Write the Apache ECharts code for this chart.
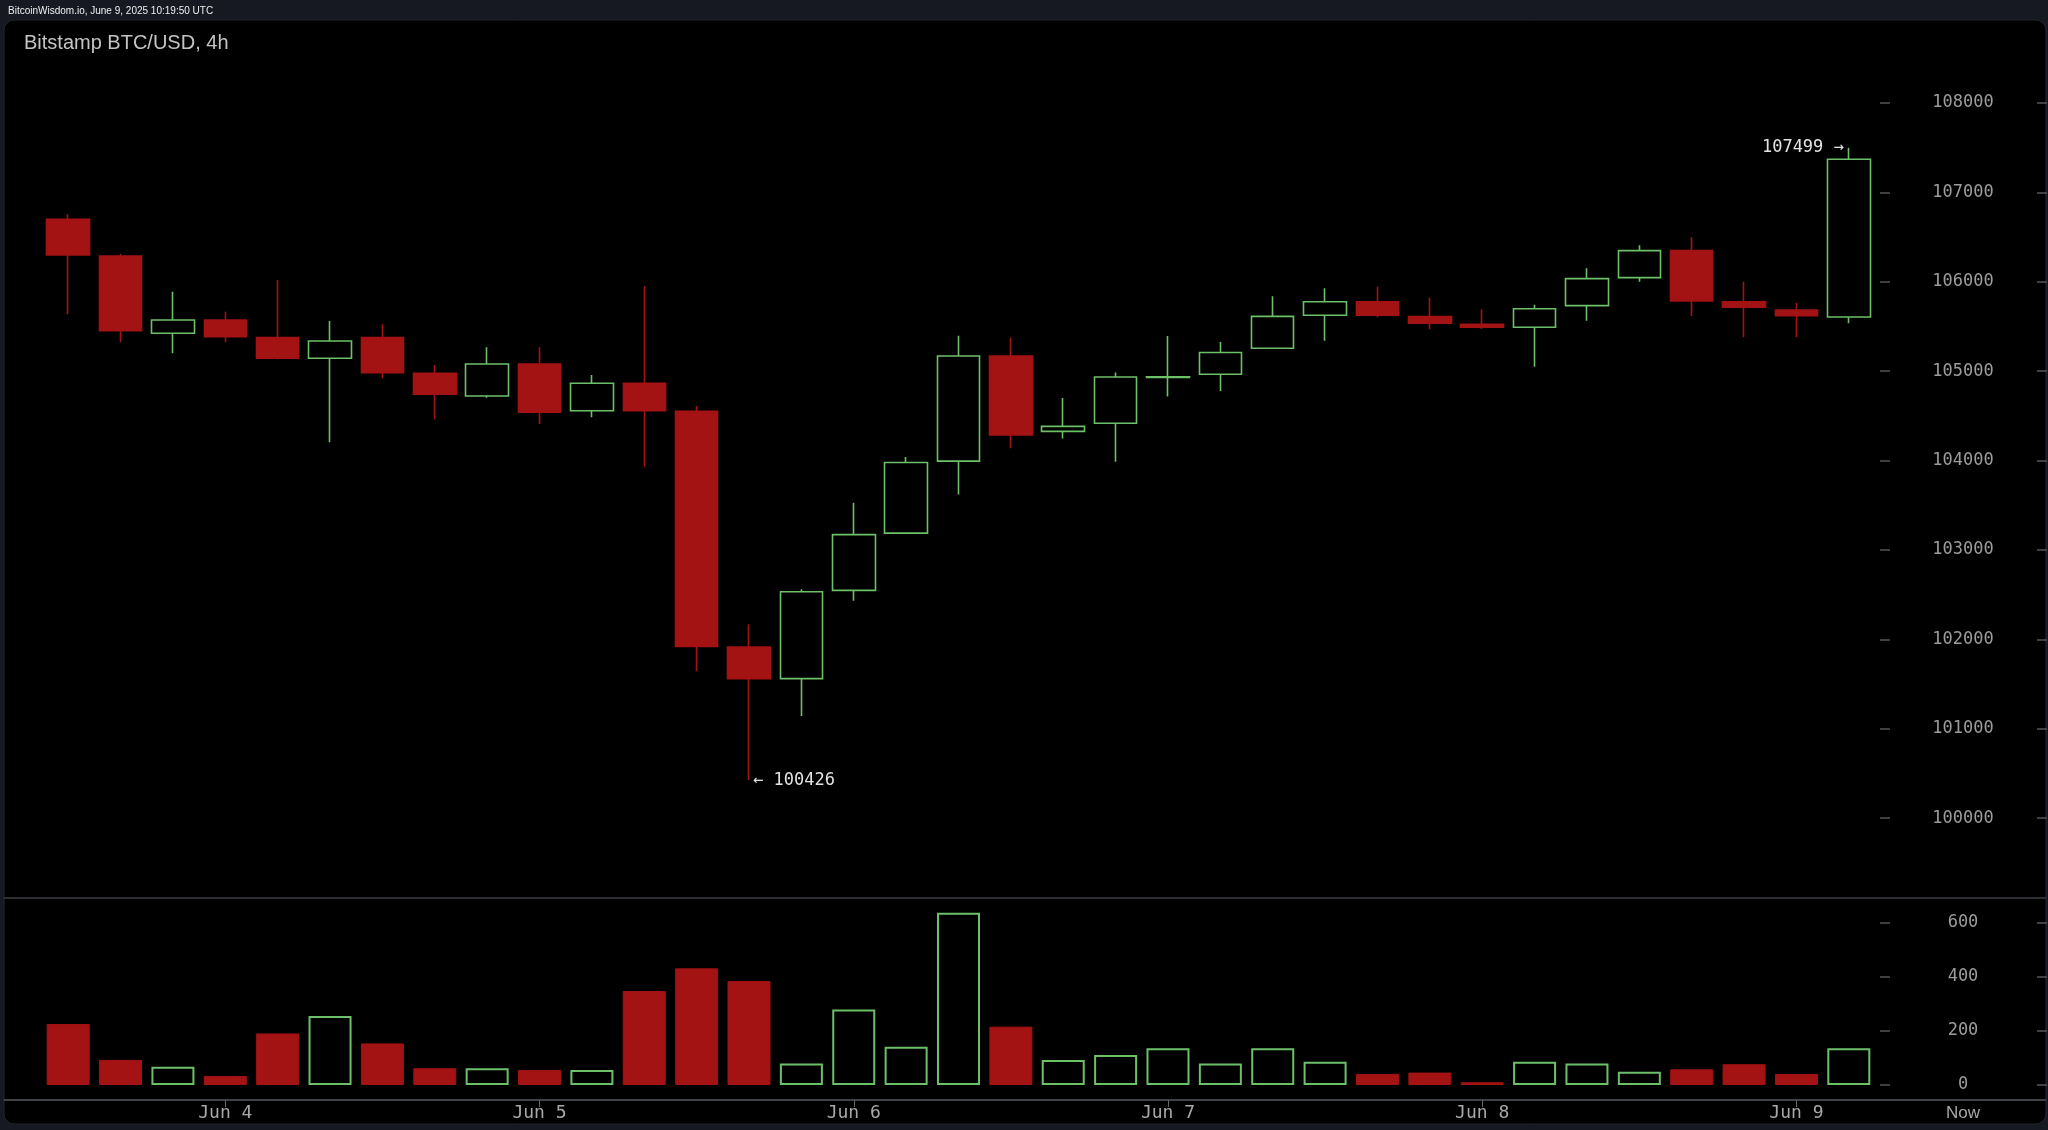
<!DOCTYPE html>
<html>
<head>
<meta charset="utf-8">
<style>
  html, body { margin: 0; padding: 0; background: #161922; }
  #chart { width: 2048px; height: 1130px; }
</style>
<script src="https://cdn.jsdelivr.net/npm/echarts@6/dist/echarts.min.js"></script>
</head>
<body>
<div id="chart"></div>
<script>
// ---- data ----
const categories = [
  '06-03 12:00','06-03 16:00','06-03 20:00',
  '06-04 00:00','06-04 04:00','06-04 08:00','06-04 12:00','06-04 16:00','06-04 20:00',
  '06-05 00:00','06-05 04:00','06-05 08:00','06-05 12:00','06-05 16:00','06-05 20:00',
  '06-06 00:00','06-06 04:00','06-06 08:00','06-06 12:00','06-06 16:00','06-06 20:00',
  '06-07 00:00','06-07 04:00','06-07 08:00','06-07 12:00','06-07 16:00','06-07 20:00',
  '06-08 00:00','06-08 04:00','06-08 08:00','06-08 12:00','06-08 16:00','06-08 20:00',
  '06-09 00:00','06-09 04:00'
];
const opens  = [106699,106289,105424,105573,105375,105144,105375,104976,104723,105080,104558,104865,104550,101914,101561,102548,103188,103994,105169,104327,104418,104930,104965,105257,105625,105777,105610,105525,105491,105733,106046,106348,105777,105684,105606];
const closes = [106300,105453,105573,105386,105144,105338,104983,104742,105080,104540,104865,104558,101922,101561,102532,103172,103979,105169,104286,104383,104934,104936,105209,105613,105777,105625,105536,105491,105699,106035,106348,105785,105715,105621,107370];
const highs  = [106755,106311,105889,105666,106020,105561,105525,105069,105267,105267,104957,105953,104611,102169,102560,103527,104039,105397,105377,104701,104985,105394,105325,105837,105927,105945,105822,105692,105744,106151,106408,106498,106001,105766,107499];
const lows   = [105636,105323,105200,105323,105133,104205,104920,104462,104703,104409,104484,103932,101642,100426,101142,102433,103180,103620,104139,104246,103986,104718,104777,105250,105341,105603,105469,105472,105050,105565,106001,105617,105379,105379,105536];
const volumes = [226,93,68,33,191,256,154,62,62,56,56,348,432,385,80,280,142,638,216,93,111,136,80,136,86,41,46,10,86,80,49,58,77,41,136];

const priceTicks = [100000,101000,102000,103000,104000,105000,106000,107000,108000];
const volumeTicks = [0,200,400,600];
const dayTickCats = ['06-04 00:00','06-05 00:00','06-06 00:00','06-07 00:00','06-08 00:00','06-09 00:00'];
const dayTickLabels = ['Jun 4','Jun 5','Jun 6','Jun 7','Jun 8','Jun 9'];
const headerText = 'BitcoinWisdom.io, June 9, 2025 10:19:50 UTC';
const titleText = 'Bitstamp BTC/USD, 4h';
const nowLabel = 'Now';

// ---- styles ----
const UP = '#6cc068';
const DOWN = '#a31313';
const MONO = 'DejaVu Sans Mono';
const SANS = 'Liberation Sans';

const candleData = categories.map((c, i) => [opens[i], closes[i], lows[i], highs[i]]);
const volData = volumes.map((v, i) => {
  const up = closes[i] >= opens[i];
  return {
    value: v,
    itemStyle: up
      ? { color: '#000', borderColor: UP, borderWidth: 2 }
      : { color: DOWN, borderColor: DOWN, borderWidth: 1 }
  };
});

const lowVal = Math.min(...lows), lowIdx = lows.indexOf(lowVal);
const highVal = Math.max(...highs), highIdx = highs.indexOf(highVal);

const isDayTick = (idx, val) => dayTickCats.indexOf(val) >= 0;
const plain = v => String(v);

function valueAxis(grid, offset, min, max, ticks, withLabels) {
  return {
    type: 'value', gridIndex: grid, position: 'right', offset: offset, min: min, max: max, scale: true,
    axisLine: { show: false }, splitLine: { show: false },
    axisTick: { show: true, length: 10, customValues: ticks, lineStyle: { color: '#555', width: 1.5 } },
    axisLabel: withLabels
      ? { show: true, customValues: ticks, margin: 83, align: 'center', verticalAlign: 'middle',
          color: '#9c9c9c', fontFamily: MONO, fontSize: 17, formatter: plain }
      : { show: false }
  };
}

const chart = echarts.init(document.getElementById('chart'), null, { renderer: 'canvas' });
chart.setOption({
  backgroundColor: '#161922',
  animation: false,
  title: [
    { text: headerText, left: 8, top: 6, padding: 0,
      textStyle: { color: '#eeeeee', fontSize: 10, fontFamily: SANS, fontWeight: 'normal' } },
    { text: titleText, left: 24, top: 33, padding: 0,
      textStyle: { color: '#c4c4c4', fontSize: 20, fontFamily: SANS, fontWeight: 'normal' } }
  ],
  graphic: [
    { type: 'rect', z: -10, silent: true,
      shape: { x: 4, y: 20, width: 2042, height: 1104, r: 10 },
      style: { fill: '#000000', stroke: '#23262e', lineWidth: 1 } },
    { type: 'line', z: -5, silent: true,
      shape: { x1: 4, y1: 898, x2: 2046, y2: 898 },
      style: { stroke: '#3c3f46', lineWidth: 1.5 } },
    { type: 'line', z: -5, silent: true,
      shape: { x1: 4, y1: 1100, x2: 2046, y2: 1100 },
      style: { stroke: '#55585e', lineWidth: 1.5 } },
    { type: 'text', x: 1963, y: 1113, silent: true,
      style: { text: nowLabel, fill: '#a8a8a8', fontSize: 17, fontFamily: SANS, align: 'center', verticalAlign: 'middle' } }
  ],
  grid: [
    { left: 42, right: 173, top: 21, height: 877 },
    { left: 42, right: 173, top: 896, height: 189 },
    { left: 42, right: 173, top: 1090, height: 10 }
  ],
  xAxis: [
    { type: 'category', gridIndex: 0, data: categories, boundaryGap: true, show: false },
    { type: 'category', gridIndex: 1, data: categories, boundaryGap: true, show: false },
    { type: 'category', gridIndex: 2, data: categories, boundaryGap: true,
      axisLine: { show: false },
      axisTick: { show: true, alignWithLabel: true, interval: isDayTick, length: 7, lineStyle: { color: '#666', width: 1 } },
      axisLabel: { show: true, interval: isDayTick, margin: 4, color: '#a8a8a8', fontFamily: MONO, fontSize: 18,
        formatter: v => { const k = dayTickCats.indexOf(v); return k >= 0 ? dayTickLabels[k] : ''; } },
      splitLine: { show: false } }
  ],
  yAxis: [
    valueAxis(0, 5, 99107, 108917, priceTicks, true),
    valueAxis(0, 162, 99107, 108917, priceTicks, false),
    valueAxis(1, 5, 0, 700, volumeTicks, true),
    valueAxis(1, 162, 0, 700, volumeTicks, false),
    { type: 'value', gridIndex: 2, show: false, min: 0, max: 1 }
  ],
  series: [
    { type: 'candlestick', xAxisIndex: 0, yAxisIndex: 0, data: candleData, barWidth: 43,
      itemStyle: { color: '#000000', color0: DOWN, borderColor: UP, borderColor0: DOWN, borderWidth: 1.6 },
      markPoint: {
        symbol: 'circle', symbolSize: 0, silent: true,
        label: { show: true, color: '#e2e2e2', fontFamily: MONO, fontSize: 17 },
        data: [
          { coord: [lowIdx, lowVal], value: lowVal,
            label: { position: 'right', distance: 4, formatter: '\u2190 ' + lowVal } },
          { coord: [highIdx, highVal], value: highVal,
            label: { position: 'left', distance: 5, formatter: highVal + ' \u2192' } }
        ]
      }
    },
    { type: 'bar', xAxisIndex: 1, yAxisIndex: 2, data: volData, barWidth: 43 }
  ]
});
</script>
</body>
</html>
